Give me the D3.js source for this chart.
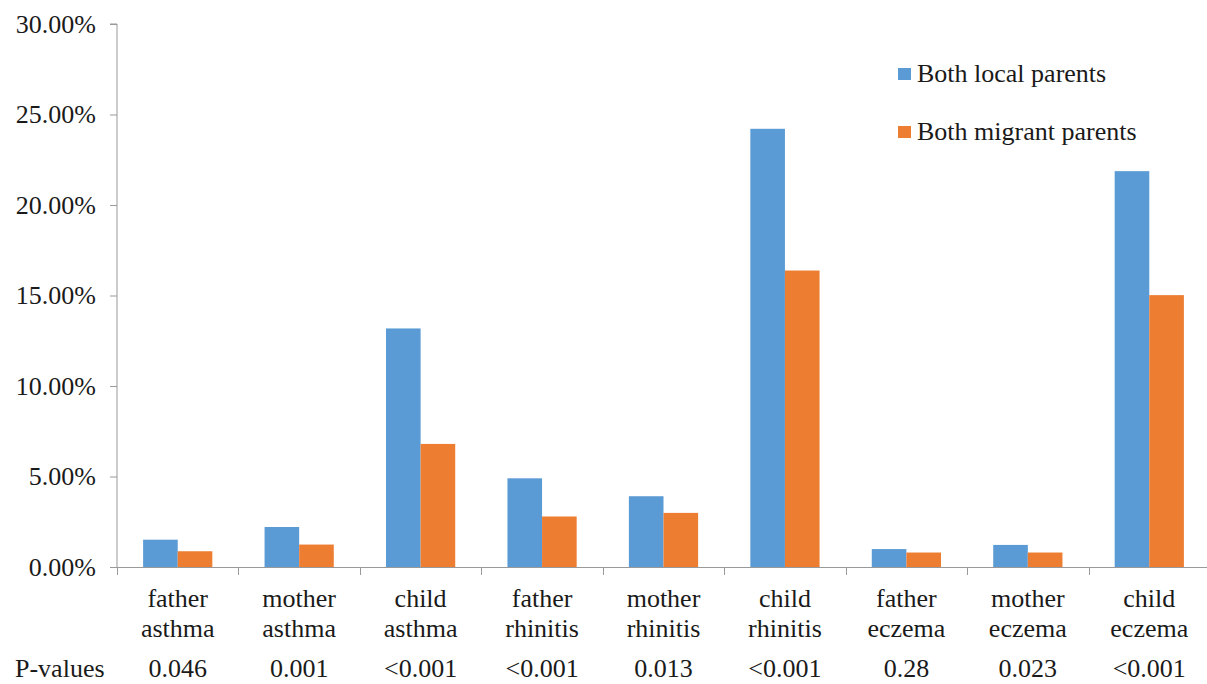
<!DOCTYPE html>
<html>
<head>
<meta charset="utf-8">
<script src="https://cdn.jsdelivr.net/npm/d3@7.9.0/dist/d3.min.js"></script>
<style>
  svg text, svg tspan { font-family: "Liberation Serif", "Times New Roman", Tinos, serif !important; }
</style>
</head>
<body style="margin:0">
<svg id="s" width="1207" height="684"></svg>
<script>
const categories = [
  ["father", "asthma"], ["mother", "asthma"], ["child", "asthma"],
  ["father", "rhinitis"], ["mother", "rhinitis"], ["child", "rhinitis"],
  ["father", "eczema"], ["mother", "eczema"], ["child", "eczema"]
];
const seriesNames = ["Both local parents", "Both migrant parents"];
const localValues = [1.51, 2.21, 13.18, 4.90, 3.91, 24.21, 0.99, 1.22, 21.87];
const migrantValues = [0.87, 1.24, 6.80, 2.79, 2.99, 16.38, 0.80, 0.80, 15.02];
const pValues = ["0.046", "0.001", "<0.001", "<0.001", "0.013", "<0.001", "0.28", "0.023", "<0.001"];
const yTicks = [0, 5, 10, 15, 20, 25, 30];

const colors = ["#5b9bd5", "#ed7d31"];
const svg = d3.select("#s");

const plotLeft = 117, plotRight = 1210, plotTop = 24, plotBottom = 567;
const keys = categories.map(c => c.join(" "));

const y = d3.scaleLinear().domain([0, 30]).range([plotBottom, plotTop]);
const xSlot = d3.scaleBand().domain(keys).range([plotLeft, plotRight]).padding(0);
const xBar = d3.scaleBand().domain(seriesNames)
  .range([0, xSlot.bandwidth() * 0.57]);
const mid = i => xSlot(keys[i]) + xSlot.bandwidth() / 2;

// y axis
const yAxis = svg.append("g")
  .attr("transform", `translate(${plotLeft},0)`)
  .call(d3.axisLeft(y).tickValues(yTicks).tickSize(7).tickPadding(14)
    .tickFormat(d => d.toFixed(2) + "%"));
yAxis.attr("font-family", null).attr("font-size", null);
yAxis.select(".domain").attr("stroke", "#999").attr("d", `M-7,${plotTop}H0V${plotBottom}`);
yAxis.selectAll(".tick line").attr("stroke", "#999");

// bars
const groups = svg.append("g").selectAll("g")
  .data(keys)
  .join("g")
  .attr("transform", d => `translate(${xSlot(d) + (xSlot.bandwidth() - xBar.range()[1]) / 2},0)`);

groups.selectAll("rect")
  .data((d, i) => [
    { s: seriesNames[0], v: localValues[i] },
    { s: seriesNames[1], v: migrantValues[i] }
  ])
  .join("rect")
  .attr("x", d => xBar(d.s))
  .attr("y", d => y(d.v))
  .attr("width", xBar.bandwidth())
  .attr("height", d => plotBottom - y(d.v))
  .attr("fill", (d, i) => colors[i]);

// x axis line and ticks at slot boundaries
svg.append("line")
  .attr("x1", plotLeft).attr("x2", plotRight)
  .attr("y1", plotBottom + 0.5).attr("y2", plotBottom + 0.5)
  .attr("stroke", "#999");
svg.append("g").selectAll("line")
  .data(keys)
  .join("line")
  .attr("x1", d => Math.round(xSlot(d)) + 0.5)
  .attr("x2", d => Math.round(xSlot(d)) + 0.5)
  .attr("y1", plotBottom).attr("y2", plotBottom + 8)
  .attr("stroke", "#999");

// category labels
const labels = svg.append("g").selectAll("text")
  .data(categories)
  .join("text")
  .attr("text-anchor", "middle");
labels.append("tspan").attr("y", 607).attr("x", (d, i) => mid(i)).text(d => d[0]);
labels.append("tspan").attr("y", 637).attr("x", (d, i) => mid(i)).text(d => d[1]);

// p-values row
svg.append("text").attr("x", 15).attr("y", 677).text("P-values");
svg.append("g").selectAll("text")
  .data(pValues)
  .join("text")
  .attr("text-anchor", "middle")
  .attr("x", (d, i) => mid(i))
  .attr("y", 677)
  .text(d => d);

// legend
const legend = svg.append("g").selectAll("g")
  .data(seriesNames)
  .join("g")
  .attr("transform", (d, i) => `translate(898,${68 + i * 58})`);
legend.append("rect").attr("width", 13).attr("height", 12).attr("fill", (d, i) => colors[i]);
legend.append("text").attr("x", 19).attr("y", 14).text(d => d);

svg.selectAll("text")
  .attr("font-size", 26)
  .attr("fill", "#1a1a1a")
  .attr("font-family", "Liberation Serif")
  .style("font-family", "'Liberation Serif', serif", "important");
</script>
</body>
</html>
